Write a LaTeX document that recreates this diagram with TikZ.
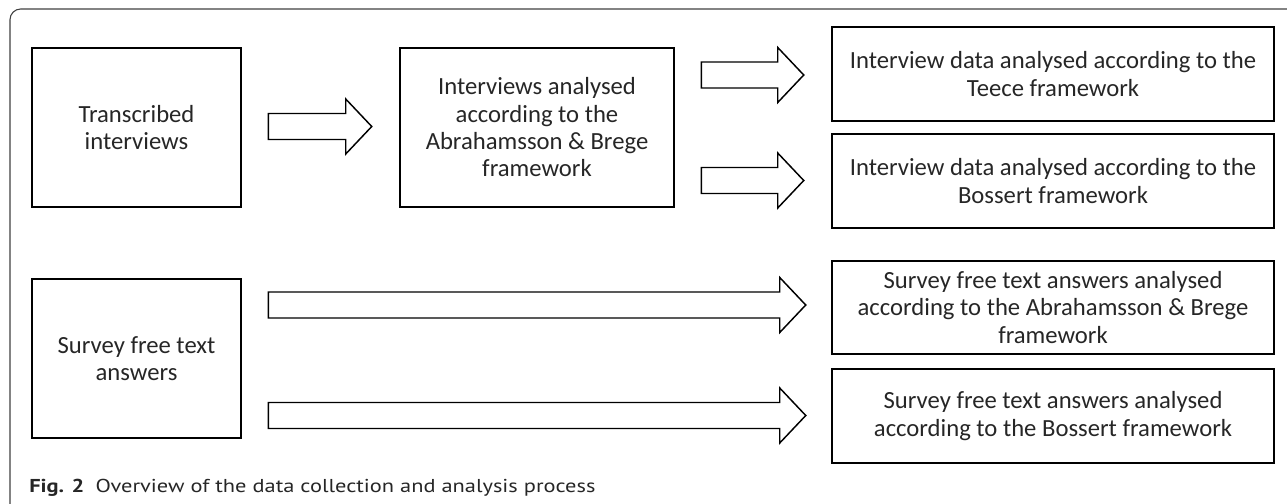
\documentclass[tikz,border=0pt]{standalone}
\usepackage{fontspec}
\setmainfont{Carlito}
\newfontfamily\capfont[FakeStretch=1.2]{PT Sans}
\usetikzlibrary{calc}
\tikzset{
  box/.style={draw=black, line width=1.9pt, align=center, inner sep=2pt,
    font=\fontsize{18.5pt}{20.5pt}\selectfont, text=black!85},
  blockarr/.style={draw=black, line width=1.1pt, line join=miter},
  frame/.style={draw=black!75, line width=0.8pt},
}
\newcommand\blockarrow[2]{%
  \draw[blockarr] ($(#1)+(0,-13)$) -- ($(#2)+(-26,-13)$) -- ($(#2)+(-26,-27.5)$)
    -- (#2) -- ($(#2)+(-26,27.5)$) -- ($(#2)+(-26,13)$) -- ($(#1)+(0,13)$) -- cycle;}
\begin{document}
\begin{tikzpicture}[x=0.75pt,y=-0.75pt]
\useasboundingbox (0,0) rectangle (1287,503);
\draw[frame, rounded corners=8pt] (1290,9) -- (10,9) -- (10,506);

\node[box, minimum width=156.75pt, minimum height=119.25pt] (trans) at (136.5,127.5) {Transcribed\\interviews};
\node[box, minimum width=205.5pt, minimum height=119.25pt] (intab) at (537,127.5) {Interviews analysed\\according to the\\Abrahamsson \& Brege\\framework};
\node[box, minimum width=331.5pt, minimum height=70.5pt] (teece) at (1053,74) {Interview data analysed according to the\\Teece framework};
\node[box, minimum width=331.5pt, minimum height=70.5pt] (boss) at (1053,181) {Interview data analysed according to the\\Bossert framework};
\node[box, minimum width=156.75pt, minimum height=119.25pt] (survey) at (136.5,358.5) {Survey free text\\answers};
\node[box, minimum width=331.5pt, minimum height=69.75pt] (sab) at (1053,307.5) {Survey free text answers analysed\\according to the Abrahamsson \& Brege\\framework};
\node[box, minimum width=331.5pt, minimum height=70.5pt] (sboss) at (1053,416) {Survey free text answers analysed\\according to the Bossert framework};

\coordinate (a1s) at ($(trans.east)+(26,-1)$);
\coordinate (a1e) at ($(intab.west)+(-27,-1)$);
\coordinate (a2s) at ($(intab.east |- teece.west)+(26,1)$);
\coordinate (a2e) at ($(teece.west)+(-27,1)$);
\coordinate (a3s) at ($(intab.east |- boss.west)+(26,-0.5)$);
\coordinate (a3e) at ($(boss.west)+(-27,-0.5)$);
\coordinate (a4s) at ($(survey.east |- sab.west)+(26,-2.5)$);
\coordinate (a4e) at ($(sab.west)+(-25,-2.5)$);
\coordinate (a5s) at ($(survey.east |- sboss.west)+(26,-0.5)$);
\coordinate (a5e) at ($(sboss.west)+(-25,-0.5)$);
\blockarrow{a1s}{a1e}
\blockarrow{a2s}{a2e}
\blockarrow{a3s}{a3e}
\blockarrow{a4s}{a4e}
\blockarrow{a5s}{a5e}

\node[anchor=base west, inner sep=0pt, font=\capfont\fontsize{14pt}{16pt}\selectfont, text=black!85] (cap) at (29,492) {\textbf{Fig. 2}\hspace{0.6em}Overview of the data collection and analysis process};
\end{tikzpicture}
\end{document}
